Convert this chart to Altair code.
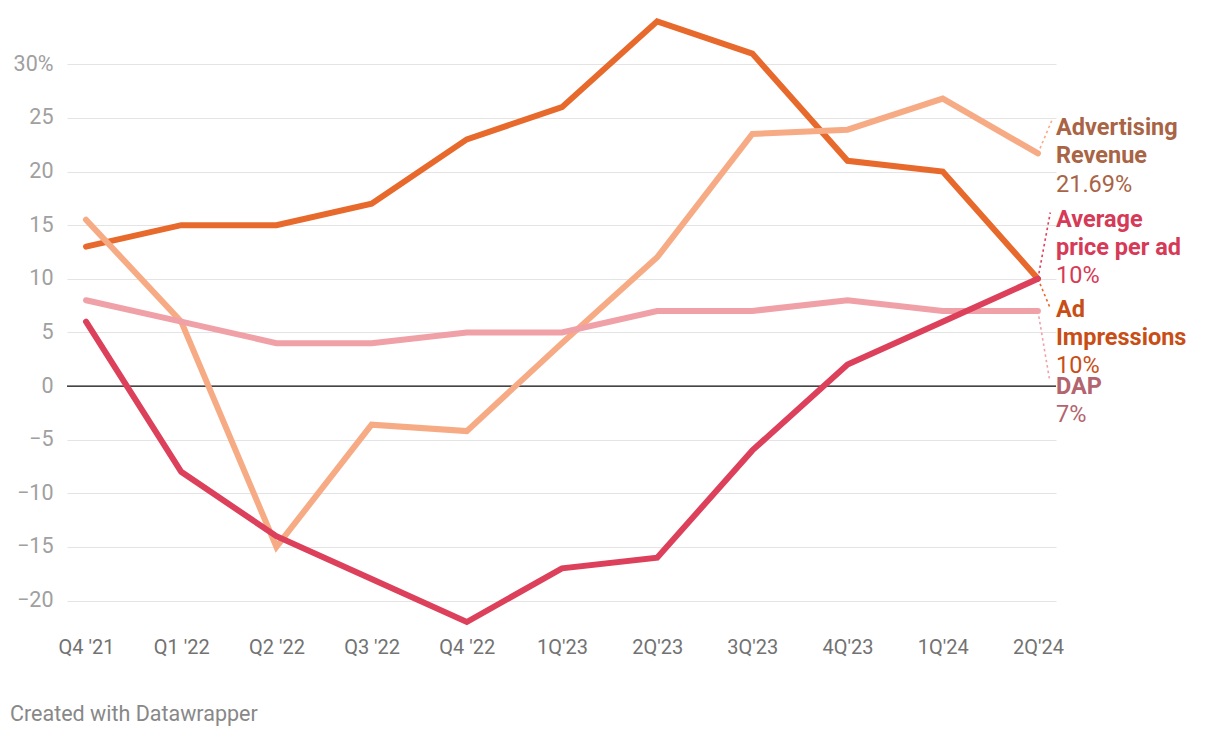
import json
import altair as alt
import pandas as pd

# ---------------- data ----------------
quarters = ["Q4 '21", "Q1 '22", "Q2 '22", "Q3 '22", "Q4 '22", "1Q'23", "2Q'23",
            "3Q'23", "4Q'23", "1Q'24", "2Q'24"]
ad_impressions = [13, 15, 15, 17, 23, 26, 34, 31, 21, 20, 10]
ad_revenue = [15.5, 6, -15, -3.6, -4.2, 4, 12, 23.5, 23.9, 26.8, 21.69]
avg_price = [6, -8, -14, -18, -22, -17, -16, -6, 2, 6, 10]
dap = [8, 6, 4, 4, 5, 5, 7, 7, 8, 7, 7]

series_names = ["Ad Impressions", "Advertising Revenue", "DAP", "Average price per ad"]
series_values = [ad_impressions, ad_revenue, dap, avg_price]
line_colors = ["#e8692c", "#f7ab85", "#f0a1a7", "#dc405b"]

# end labels (name lines, value line)
label_names = [["Advertising", "Revenue"], ["Average", "price per ad"],
               ["Ad", "Impressions"], ["DAP"]]
label_values = ["21.69%", "10%", "10%", "7%"]
label_colors = ["#a86445", "#d63a57", "#c94e16", "#b3646f"]
connector_colors = ["#f7ab85", "#dc405b", "#e8692c", "#f0a1a7"]
label_end_values = [21.69, 10, 10, 7]
# annotation placement (in axis units)
label_first_y = [23.38, 14.82, 6.43, -0.73]
label_step = 2.63
connector_end_x = [10.147, 10.13, 10.13, 10.12]
connector_end_y = [24.78, 16.18, 7.24, 0.71]

y_ticks = [-20, -15, -10, -5, 0, 5, 10, 15, 20, 25, 30]

# ---------------- tables ----------------
rows = []
for name, vals in zip(series_names, series_values):
    for i, v in enumerate(vals):
        rows.append({"i": i, "series": name, "value": v})
df = pd.DataFrame(rows)

bold_rows, reg_rows, conn_rows = [], [], []
last = len(quarters) - 1
x_max = 10.19
for k in range(len(label_names)):
    y0 = label_first_y[k]
    for j, t in enumerate(label_names[k]):
        bold_rows.append({"x": x_max, "y": y0 - j * label_step, "t": t, "c": label_colors[k]})
    reg_rows.append({"x": x_max, "y": y0 - len(label_names[k]) * label_step,
                     "t": label_values[k], "c": label_colors[k]})
    conn_rows.append({"x": last, "y": label_end_values[k], "x2": connector_end_x[k],
                      "y2": connector_end_y[k], "c": connector_colors[k]})
bold_df = pd.DataFrame(bold_rows)
reg_df = pd.DataFrame(reg_rows)
conn_df = pd.DataFrame(conn_rows)

W, H = 989, 606
x_scale = alt.Scale(domain=[-0.2, x_max], nice=False, zero=False)
y_scale = alt.Scale(domain=[-22, 34.5], nice=False, zero=False)

x_label_expr = json.dumps(quarters) + "[datum.value]"
y_label_expr = ("datum.value == 30 ? '30%' : (datum.value < 0 ? '\u2212' + abs(datum.value) : '' + datum.value)")

x_axis = alt.Axis(values=list(range(len(quarters))), labelExpr=x_label_expr, grid=False,
                  domain=False, ticks=False, labelFontSize=20, labelColor="#727272",
                  labelPadding=15, title=None, labelFont="Roboto")
y_axis = alt.Axis(values=y_ticks, labelExpr=y_label_expr, grid=True, gridColor="#e4e4e4",
                  gridWidth=1, domain=False, ticks=False, labelFontSize=21.5,
                  labelColor="#a0a0a0", labelPadding=14, title=None, labelFont="Roboto")

base = alt.Chart(df)

axes_layer = alt.Chart(pd.DataFrame({"i": [0], "value": [0]})).mark_point(opacity=0).encode(
    x=alt.X("i:Q", scale=x_scale, axis=x_axis),
    y=alt.Y("value:Q", scale=y_scale, axis=y_axis),
)

zero_rule = alt.Chart(pd.DataFrame({"v": [0]})).mark_rule(color="#111111", strokeWidth=1.3).encode(
    y=alt.Y("v:Q", scale=y_scale), x=alt.value(0), x2=alt.value(W)
)

layers = [axes_layer, zero_rule]

conn = alt.Chart(conn_df).mark_rule(strokeWidth=1.6, strokeDash=[2.5, 3]).encode(
    x=alt.X("x:Q", scale=x_scale), y=alt.Y("y:Q", scale=y_scale),
    x2="x2:Q", y2="y2:Q", color=alt.Color("c:N", scale=None)
)
layers.append(conn)

for name, col in zip(series_names, line_colors):
    layers.append(
        base.transform_filter(alt.datum.series == name).mark_line(
            color=col, strokeWidth=6, strokeCap="round", strokeJoin="miter", clip=False
        ).encode(x=alt.X("i:Q", scale=x_scale), y=alt.Y("value:Q", scale=y_scale))
    )

bold_txt = alt.Chart(bold_df).mark_text(
    align="left", baseline="alphabetic", fontSize=23.5, fontWeight="bold", font="Roboto", clip=False
).encode(x=alt.X("x:Q", scale=x_scale), y=alt.Y("y:Q", scale=y_scale), text="t:N",
         color=alt.Color("c:N", scale=None))
reg_txt = alt.Chart(reg_df).mark_text(
    align="left", baseline="alphabetic", fontSize=23.5, font="Roboto", clip=False
).encode(x=alt.X("x:Q", scale=x_scale), y=alt.Y("y:Q", scale=y_scale), text="t:N",
         color=alt.Color("c:N", scale=None))
layers += [bold_txt, reg_txt]

credit = alt.Chart(pd.DataFrame({"t": ["Created with Datawrapper"]})).mark_text(
    align="left", baseline="middle", fontSize=21.5, font="Roboto", color="#888888"
).encode(text="t:N", x=alt.value(-57), y=alt.value(699))
layers.append(credit)

chart = alt.layer(*layers).properties(
    width=W, height=H,
    autosize=alt.AutoSizeParams(type="none"),
    padding={"left": 59, "top": 8, "right": 156, "bottom": 114},
).configure(font="Roboto", background="white").configure_view(stroke=None)

chart.save("out.html", embed_options={"renderer": "svg", "actions": False})
